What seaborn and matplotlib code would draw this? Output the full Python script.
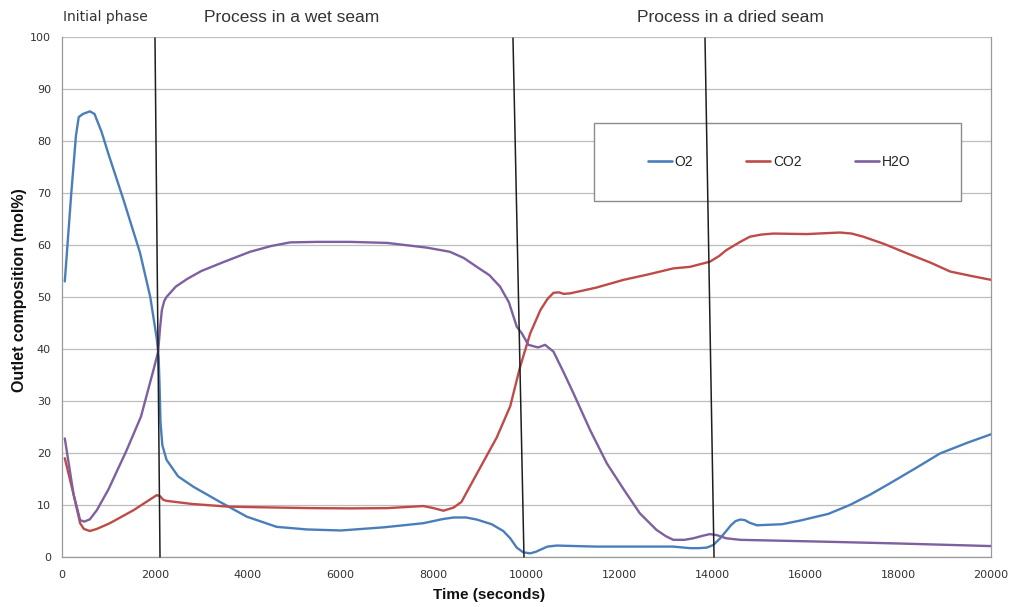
import numpy as np
import pandas as pd
import matplotlib
matplotlib.use("Agg")
import matplotlib.pyplot as plt
from matplotlib.lines import Line2D
from matplotlib.patches import Rectangle
import seaborn as sns

# ---------------- data ----------------
o2_t = [60, 200, 300, 360, 450, 600, 700, 850, 1000, 1320, 1680, 1900, 2040, 2080, 2100,
        2120, 2160, 2250, 2500, 2830, 3400, 3980, 4620, 5270, 6000, 6920, 7780, 8200,
        8430, 8700, 8930, 9250, 9500, 9650, 9790, 9930, 10080, 10200, 10300, 10450, 10650,
        11500, 12500, 13160, 13520, 13700, 13880, 14020, 14170, 14300, 14400, 14500, 14600,
        14700, 14800, 14960, 15500, 15890, 16500, 16960, 17400, 17830, 18400,
        18900, 19500, 20000]
o2_v = [53, 70, 81, 84.6, 85.2, 85.7, 85.2, 81.8, 77.5, 68.8, 58.5, 50, 42, 38.5, 33,
        26, 21.5, 18.7, 15.5, 13.5, 10.6, 7.75, 5.8, 5.3, 5.1, 5.7, 6.5, 7.3,
        7.6, 7.6, 7.2, 6.3, 5.0, 3.6, 1.8, 0.9, 0.7, 1.0, 1.4, 2.0, 2.2,
        2.0, 2.0, 2.0, 1.7, 1.7, 1.8, 2.3, 3.6, 5.0, 6.1, 6.9, 7.2,
        7.1, 6.6, 6.1, 6.3, 7.0, 8.3, 10, 12, 14.2, 17.2,
        19.9, 22, 23.6]

co2_t = [60, 250, 390, 470, 600, 750, 1030, 1540, 2040, 2110, 2180, 2250, 2800, 3550,
         4050, 5340, 6200, 7000, 7780, 8000, 8210, 8430, 8600, 8930, 9360, 9650, 9860,
         10080, 10300, 10450, 10580, 10700, 10800, 10940, 11500, 12090, 12600, 13160,
         13520, 13950, 14150, 14300, 14600, 14810, 15050, 15310, 16030, 16750, 17000,
         17250, 17700, 18190, 18700, 19120, 19600, 20000]
co2_v = [19, 12, 6.5, 5.4, 5.0, 5.4, 6.5, 9.0, 11.9, 11.7, 11.0, 10.8, 10.2, 9.7,
         9.6, 9.4, 9.35, 9.4, 9.8, 9.4, 8.9, 9.5, 10.6, 16, 23, 29, 36.5,
         43, 47.5, 49.6, 50.8, 50.9, 50.6, 50.7, 51.8, 53.3, 54.3, 55.5,
         55.8, 56.8, 57.9, 59, 60.6, 61.6, 62.0, 62.2, 62.1, 62.4, 62.2,
         61.6, 60.2, 58.4, 56.6, 54.9, 54, 53.3]

h2o_t = [60, 250, 390, 480, 600, 750, 1000, 1390, 1700, 1970, 2070, 2110, 2150, 2200,
         2250, 2450, 2700, 3000, 3500, 4050, 4500, 4910, 5500, 6200, 7000, 7850, 8350,
         8650, 8930, 9200, 9430, 9620, 9790, 9900, 10040, 10250, 10400, 10580, 10800,
         11010, 11370, 11730, 12100, 12440, 12800, 13000, 13160, 13400, 13590, 13800,
         13950, 14100, 14300, 14600, 16390, 18000, 20000]
h2o_v = [22.8, 12, 7.1, 6.8, 7.25, 9, 13, 20.5, 27, 36, 39.5, 44, 47.5, 49.2,
         50, 52, 53.5, 55, 56.8, 58.7, 59.8, 60.5, 60.6, 60.6, 60.4, 59.5, 58.7,
         57.5, 55.8, 54.2, 52, 49, 44.3, 43, 40.8, 40.3, 40.8, 39.5, 35.5,
         31.5, 24.4, 18, 12.9, 8.4, 5.2, 4.0, 3.3, 3.3, 3.6, 4.1,
         4.4, 4.2, 3.6, 3.3, 2.95, 2.6, 2.1]

series_names = ["O2", "CO2", "H2O"]
series_colors = ["#4A7EBB", "#BE4B48", "#7D60A0"]

# phase boundary lines: (time at top, time at bottom)
boundary_top_t = [2002, 9709, 13843]
boundary_bot_t = [2110, 9946, 14037]
boundary_top_y = 99.8

phase_labels = ["Initial phase", "Process in a wet seam", "Process in a dried seam"]
x_ticks = list(range(0, 20001, 2000))
y_ticks = list(range(0, 101, 10))

# ---------------- build frame ----------------
df = pd.concat([
    pd.DataFrame({"t": o2_t, "v": o2_v, "gas": "O2"}),
    pd.DataFrame({"t": co2_t, "v": co2_v, "gas": "CO2"}),
    pd.DataFrame({"t": h2o_t, "v": h2o_v, "gas": "H2O"}),
], ignore_index=True)

sns.set_style("white")
plt.rcParams["font.family"] = ["DejaVu Sans"]

fig = plt.figure(figsize=(10.10, 6.07), dpi=100)
ax = fig.add_axes([62 / 1010, 50 / 607, 929 / 1010, 520 / 607])

palette = dict(zip(series_names, series_colors))
sns.lineplot(data=df, x="t", y="v", hue="gas", palette=palette, sort=False,
             estimator=None, lw=1.7, legend=False, ax=ax, zorder=3)
for ln in ax.lines:
    ln.set_solid_joinstyle("round")
    ln.set_solid_capstyle("round")

ax.set_xlim(0, 20000)
ax.set_ylim(0, 100)
ax.set_xticks(x_ticks)
ax.set_yticks(y_ticks)
ax.set_xticklabels([str(v) for v in x_ticks])
ax.grid(axis="y", color="#BDBDBD", lw=0.9, zorder=0)
ax.grid(axis="x", visible=False)
ax.set_axisbelow(True)
for s in ["left", "bottom", "right"]:
    ax.spines[s].set_visible(True)
    ax.spines[s].set_color("#9A9A9A")
    ax.spines[s].set_linewidth(0.9)
ax.spines["top"].set_visible(False)
ax.tick_params(axis="both", which="major", length=4, width=0.8, color="#9A9A9A",
               labelsize=8, labelcolor="#333333", direction="out")
ax.tick_params(axis="x", pad=5)
ax.tick_params(axis="y", pad=4)

ax.set_xlabel("")
ax.set_ylabel("")
fig.text(489 / 1010, 1 - 595 / 607, "Time (seconds)", ha="center", va="center",
         fontsize=11, fontweight="bold", family="Liberation Sans", color="#111111")
fig.text(20 / 1010, 1 - 290 / 607, "Outlet composition (mol%)", ha="center", va="center",
         rotation=90, fontsize=11.5, fontweight="bold", family="Liberation Sans",
         color="#111111")

# phase boundary lines
for tt, tb in zip(boundary_top_t, boundary_bot_t):
    ax.plot([tt, tb], [boundary_top_y, 0], color="#1E1E1E", lw=1.1, zorder=6,
            clip_on=False)

# phase labels
fig.text(63 / 1010, 1 - 17 / 607, phase_labels[0], ha="left", va="center",
         fontsize=10, color="#333333")
fig.text(292 / 1010, 1 - 17 / 607, phase_labels[1], ha="center", va="center",
         fontsize=12.5, family="Liberation Sans", color="#333333")
fig.text(730 / 1010, 1 - 17 / 607, phase_labels[2], ha="center", va="center",
         fontsize=12.5, family="Liberation Sans", color="#333333")

# legend box
rect = Rectangle((532 / 929, 356 / 520), 367 / 929, 78 / 520, transform=ax.transAxes,
                 facecolor="white", edgecolor="#8C8C8C", lw=1.0, zorder=4)
ax.add_patch(rect)
handles = [Line2D([0], [0], color=c, lw=1.9) for c in series_colors]
leg = ax.legend(handles, series_names, ncol=3, frameon=False, loc="center",
                bbox_to_anchor=((779 - 62) / 929, (557 - 162) / 520),
                handlelength=1.75, handletextpad=0.2, columnspacing=3.8,
                prop={"family": "Liberation Sans", "size": 10})
leg.set_zorder(5)
for txt in leg.get_texts():
    txt.set_color("#222222")

fig.savefig("out.png", dpi=100)
